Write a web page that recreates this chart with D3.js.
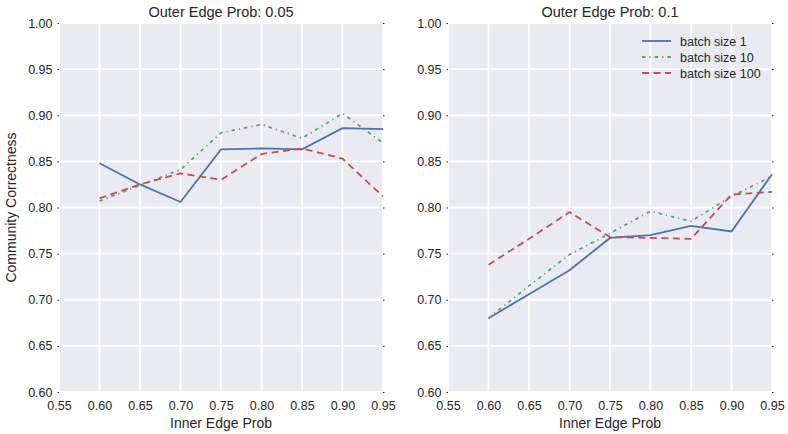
<!DOCTYPE html>
<html><head><meta charset="utf-8">
<script src="https://cdn.jsdelivr.net/npm/d3@7"></script>
<style>body{margin:0;background:#fff}svg{display:block}</style>
</head><body>
<svg id="c" width="788" height="434"></svg>
<script>
const innerProb = [0.60, 0.65, 0.70, 0.75, 0.80, 0.85, 0.90, 0.95];
const xTicks = [0.55, 0.60, 0.65, 0.70, 0.75, 0.80, 0.85, 0.90, 0.95];
const yTicks = [0.60, 0.65, 0.70, 0.75, 0.80, 0.85, 0.90, 0.95, 1.00];
const seriesNames = ["batch size 1", "batch size 10", "batch size 100"];
const titles = ["Outer Edge Prob: 0.05", "Outer Edge Prob: 0.1"];
// Outer 0.05
const left_b1   = [0.848, 0.825, 0.806, 0.863, 0.864, 0.863, 0.886, 0.885];
const left_b10  = [0.807, 0.824, 0.841, 0.881, 0.890, 0.875, 0.902, 0.870];
const left_b100 = [0.810, 0.825, 0.837, 0.830, 0.858, 0.864, 0.853, 0.812];
// Outer 0.1
const right_b1   = [0.680, 0.706, 0.732, 0.767, 0.770, 0.780, 0.774, 0.836];
const right_b10  = [0.680, 0.715, 0.749, 0.772, 0.796, 0.785, 0.812, 0.834];
const right_b100 = [0.738, 0.766, 0.795, 0.768, 0.767, 0.766, 0.814, 0.817];

const colors = ["#4C72B0", "#55A868", "#C44E52"];
const dashes = [null, "3.5,4,1.2,4", "7,4.5"];

const svg = d3.select("#c");
const font = "'Liberation Sans', Arial, sans-serif";
const panels = [
  {x0: 59, x1: 383, data: [left_b1, left_b10, left_b100], title: titles[0], ylab: true, legend: false},
  {x0: 448, x1: 772, data: [right_b1, right_b10, right_b100], title: titles[1], ylab: false, legend: true}
];
const yTop = 23, yBot = 392;

panels.forEach(p => {
  const x = d3.scaleLinear().domain([0.55, 0.95]).range([p.x0, p.x1]);
  const y = d3.scaleLinear().domain([0.60, 1.00]).range([yBot, yTop]);
  const g = svg.append("g");
  g.append("rect").attr("x", p.x0).attr("y", yTop).attr("width", p.x1 - p.x0).attr("height", yBot - yTop).attr("fill", "#EAEAF2");
  // grid
  g.selectAll(".gx").data(xTicks).enter().append("line")
    .attr("x1", d => x(d)).attr("x2", d => x(d)).attr("y1", yTop).attr("y2", yBot)
    .attr("stroke", "#fff").attr("stroke-width", 1.8);
  g.selectAll(".gy").data(yTicks).enter().append("line")
    .attr("x1", p.x0).attr("x2", p.x1).attr("y1", d => y(d)).attr("y2", d => y(d))
    .attr("stroke", "#fff").attr("stroke-width", 1.8);
  // axes
  const xa = g.append("g").attr("transform", `translate(0,${yBot})`)
    .call(d3.axisBottom(x).tickValues(xTicks).tickFormat(d3.format(".2f")).tickSize(0).tickPadding(9));
  const ya = g.append("g").attr("transform", `translate(${p.x0},0)`)
    .call(d3.axisLeft(y).tickValues(yTicks).tickFormat(d3.format(".2f")).tickSize(1.5).tickPadding(5));
  g.append("g").attr("transform", `translate(${p.x1},0)`)
    .call(d3.axisRight(y).tickValues(yTicks).tickFormat("").tickSize(1.5));
  [xa, ya].forEach(a => {
    a.select(".domain").remove();
    a.selectAll("text").attr("font-family", font).attr("font-size", 12.5).attr("fill", "#262626");
  });
  g.selectAll(".domain").remove();
  g.selectAll(".tick line").attr("stroke", "#262626");
  // lines
  const line = d3.line().x((d, i) => x(innerProb[i])).y(d => y(d));
  p.data.forEach((s, k) => {
    const path = g.append("path").datum(s).attr("d", line).attr("fill", "none")
      .attr("stroke", colors[k]).attr("stroke-width", 1.8);
    if (dashes[k]) path.attr("stroke-dasharray", dashes[k]);
  });
  g.append("text").attr("x", (p.x0 + p.x1) / 2).attr("y", 16.5).attr("text-anchor", "middle")
    .attr("font-family", font).attr("font-size", 14.5).attr("fill", "#262626").text(p.title);
  g.append("text").attr("x", (p.x0 + p.x1) / 2).attr("y", 428).attr("text-anchor", "middle")
    .attr("font-family", font).attr("font-size", 14).attr("fill", "#262626").text("Inner Edge Prob");
  if (p.ylab) {
    g.append("text").attr("transform", `translate(16,${(yTop + yBot) / 2}) rotate(-90)`).attr("text-anchor", "middle")
      .attr("font-family", font).attr("font-size", 14).attr("fill", "#262626").text("Community Correctness");
  }
  if (p.legend) {
    seriesNames.forEach((n, k) => {
      const ly = 41 + k * 16;
      const l = g.append("line").attr("x1", 642).attr("x2", 671).attr("y1", ly).attr("y2", ly)
        .attr("stroke", colors[k]).attr("stroke-width", 1.8);
      if (dashes[k]) l.attr("stroke-dasharray", dashes[k]);
      g.append("text").attr("x", 680).attr("y", ly + 4.5).attr("font-family", font).attr("font-size", 12.5)
        .attr("fill", "#262626").text(n);
    });
  }
});
</script>
</body></html>
